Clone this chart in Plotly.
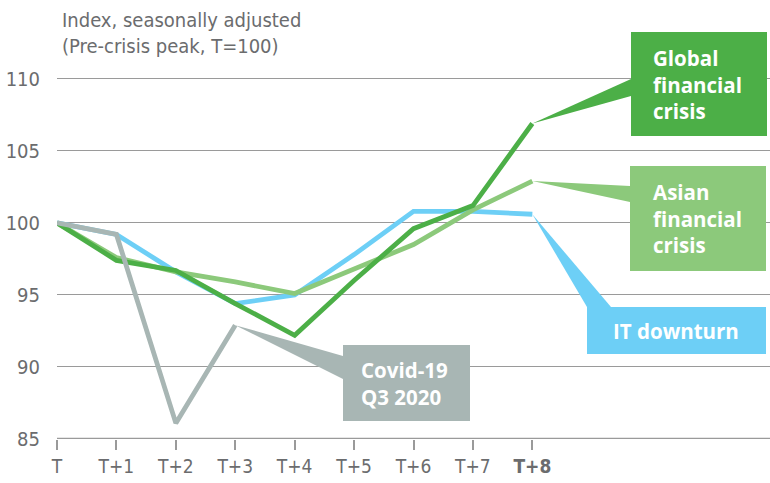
import plotly.graph_objects as go

# ---- data ----
periods = ["T", "T+1", "T+2", "T+3", "T+4", "T+5", "T+6", "T+7", "T+8"]
gfc = [100, 97.4, 96.7, 94.4, 92.2, 96.0, 99.6, 101.2, 106.9]
asian = [100, 97.6, 96.6, 95.9, 95.1, 96.8, 98.5, 100.9, 102.9]
it_down = [100, 99.2, 96.6, 94.4, 95.0, 97.8, 100.8, 100.8, 100.6]
covid = [100, 99.2, 86.1, 92.9]
y_ticks = [85, 90, 95, 100, 105, 110]

C_GFC = "#4caf47"
C_ASIAN = "#8cc97b"
C_IT = "#6dcff6"
C_COVID = "#a8b6b4"
GRID = "#9a9a9a"
TXT = "#6b6c6e"

AXIS_FONT = "DejaVu Sans Condensed, Roboto, sans-serif"
BOX_FONT = "Open Sans, Roboto, sans-serif"

W, H = 770, 483
ML, MR, MT, MB = 57, 0, 14, 44
X0, X1 = 0, 12
Y0, Y1 = 85, 114.5
pw, ph = W - ML - MR, H - MT - MB


def dx(px):
    return X0 + (px - ML) / pw * (X1 - X0)


def dy(py):
    return Y0 + (H - MB - py) / ph * (Y1 - Y0)


xs = list(range(len(periods)))

fig = go.Figure()
for name, vals, col in [("IT downturn", it_down, C_IT),
                        ("Asian financial crisis", asian, C_ASIAN),
                        ("Global financial crisis", gfc, C_GFC),
                        ("Covid-19 Q3 2020", covid, C_COVID)]:
    fig.add_trace(go.Scatter(x=xs[:len(vals)], y=vals, mode="lines", name=name,
                             line=dict(color=col, width=4.8), hoverinfo="skip"))

shapes = []
annos = []


def callout(series, idx, col, box, wedge):
    # box: (left, top, right, bottom) in px; wedge: two base points in px
    tx, ty = idx, series[idx]
    (ax, ay), (bx, by) = wedge
    shapes.append(dict(type="path", xref="x", yref="y", layer="above",
                       path=f"M {tx},{ty} L {dx(ax)},{dy(ay)} L {dx(bx)},{dy(by)} Z",
                       fillcolor=col, line=dict(width=0)))
    l, t, r, b = box
    shapes.append(dict(type="rect", xref="x", yref="y", layer="above",
                       x0=dx(l), x1=dx(r), y0=dy(b), y1=dy(t),
                       fillcolor=col, line=dict(width=0)))
    return l, t, r, b


def label(px, box, text):
    l, t, r, b = box
    annos.append(dict(x=dx(px), y=dy((t + b) / 2), xref="x", yref="y", xanchor="left",
                      yanchor="middle", align="left", showarrow=False, text=f"<b>{text}</b>",
                      font=dict(family=BOX_FONT, size=20.5, color="white")))


b1 = callout(gfc, 8, C_GFC, (631, 32, 767, 136), ((631, 79), (631, 96)))
label(651, b1, "Global<br>financial<br>crisis")
b2 = callout(asian, 8, C_ASIAN, (630, 166, 766, 271), ((630, 186), (630, 202)))
label(651, b2, "Asian<br>financial<br>crisis")
b3 = callout(it_down, 8, C_IT, (587, 307, 766, 354), ((587, 307), (611, 307)))
label(611, b3, "IT downturn")
b4 = callout(covid, 3, C_COVID, (343, 345, 470, 421), ((343, 356), (343, 379)))
label(359, b4, "Covid-19<br>Q3 2020")

annos.append(dict(x=(60 - ML) / pw, y=(H - MB - 6) / ph, xref="paper", yref="paper",
                  showarrow=False, text="Index, seasonally adjusted<br>(Pre-crisis peak, T=100)",
                  xanchor="left", yanchor="top", align="left",
                  font=dict(family=AXIS_FONT, size=20, color=TXT)))

tick_text = [f"<b>{p}</b>" if p == periods[-1] else p for p in periods]

fig.update_layout(
    width=W, height=H, margin=dict(l=ML, r=MR, t=MT, b=MB),
    paper_bgcolor="white", plot_bgcolor="white", showlegend=False,
    shapes=shapes, annotations=annos,
    xaxis=dict(range=[X0, X1], tickmode="array", tickvals=xs, ticktext=tick_text,
               showgrid=False, zeroline=False, showline=False,
               ticks="outside", ticklen=10, tickwidth=2, tickcolor=GRID,
               tickfont=dict(family=AXIS_FONT, size=19, color=TXT), fixedrange=True),
    yaxis=dict(range=[Y0, Y1], tickmode="array", tickvals=y_ticks,
               showgrid=True, gridcolor=GRID, gridwidth=1.3, zeroline=False,
               showline=False, ticks="", ticklabelstandoff=16,
               tickfont=dict(family=AXIS_FONT, size=20, color=TXT), fixedrange=True),
)
fig.add_hline(y=85, line=dict(color=GRID, width=2.5), layer="below")

fig.write_html("out.html", config={"displayModeBar": False},
               post_script="document.body.style.margin='0';document.body.style.padding='0';")
